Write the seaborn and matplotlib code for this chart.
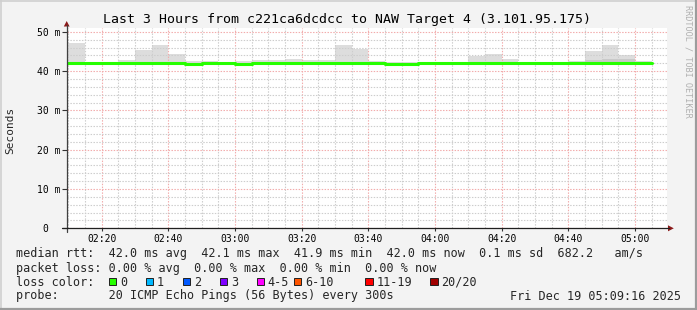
import matplotlib
matplotlib.use("Agg")
import matplotlib.pyplot as plt
import seaborn as sns
import pandas as pd
from matplotlib.lines import Line2D
from matplotlib.patches import Polygon, Rectangle
from matplotlib.ticker import MultipleLocator, FixedLocator

# ---------------- data ----------------
step_start = ["02:05", "02:10", "02:15", "02:20", "02:25", "02:30", "02:35", "02:40",
              "02:45", "02:50", "02:55", "03:00", "03:05", "03:10", "03:15", "03:20",
              "03:25", "03:30", "03:35", "03:40", "03:45", "03:50", "03:55", "04:00",
              "04:05", "04:10", "04:15", "04:20", "04:25", "04:30", "04:35", "04:40",
              "04:45", "04:50", "04:55", "05:00"]
step_end = "05:05"
smoke_max = [49.6, 47.2, 42.2, 42.2, 42.8, 45.4, 46.7, 44.4,
             42.6, 42.5, 42.3, 42.6, 42.8, 42.8, 43.1, 42.8,
             42.8, 46.6, 45.6, 42.6, 42.3, 42.3, 42.1, 42.1,
             42.1, 43.9, 44.3, 43.1, 42.1, 42.1, 42.1, 42.6,
             45.1, 46.6, 44.1, 42.6]
smoke_dense = [42.0, 42.0, 42.0, 42.0, 42.0, 42.0, 42.0, 42.0,
               41.75, 42.0, 42.0, 41.75, 42.0, 42.0, 42.0, 42.0,
               42.0, 42.0, 42.0, 42.0, 41.75, 41.75, 42.0, 42.0,
               42.0, 42.0, 42.0, 42.0, 42.0, 42.0, 42.0, 42.0,
               42.7, 43.1, 43.0, 42.0]
smoke_min = [41.7, 41.7, 41.7, 41.7, 41.7, 41.7, 41.7, 41.7,
             41.6, 41.7, 41.7, 41.6, 41.7, 41.7, 41.7, 41.7,
             41.7, 41.7, 41.7, 41.7, 41.6, 41.6, 41.7, 41.7,
             41.7, 41.7, 41.7, 41.7, 41.7, 41.7, 41.7, 41.7,
             41.7, 41.7, 41.7, 41.7]
median_rtt = [42.0, 42.0, 42.0, 42.0, 42.0, 42.0, 42.0, 42.0,
              41.75, 42.0, 42.0, 41.75, 42.0, 42.0, 42.0, 42.0,
              42.0, 42.0, 42.0, 42.0, 41.75, 41.75, 42.0, 42.0,
              42.0, 42.0, 42.0, 42.0, 42.0, 42.0, 42.0, 42.0,
              42.0, 42.0, 42.0, 42.0]

x_tick_labels = ["02:20", "02:40", "03:00", "03:20", "03:40", "04:00", "04:20", "04:40", "05:00"]
y_tick_values = [0, 10, 20, 30, 40, 50]
y_tick_labels = ["0  ", "10 m", "20 m", "30 m", "40 m", "50 m"]

title = "Last 3 Hours from c221ca6dcdcc to NAW Target 4 (3.101.95.175)"
legend_lines = [
    "median rtt:  42.0 ms avg  42.1 ms max  41.9 ms min  42.0 ms now  0.1 ms sd  682.2   am/s",
    "packet loss: 0.00 % avg  0.00 % max  0.00 % min  0.00 % now",
]
loss_labels = ["0", "1", "2", "3", "4-5", "6-10", "11-19", "20/20"]
loss_colors = ["#26ff00", "#00b8ff", "#0059ff", "#7e00ff", "#ff00ff", "#ff5500", "#ff0000", "#a10000"]
probe_text = "probe:       20 ICMP Echo Pings (56 Bytes) every 300s"
date_text = "Fri Dec 19 05:09:16 2025"


def minutes(t):
    h, m = t.split(":")
    return (int(h) - 2) * 60 + int(m)


# ---------------- figure ----------------
W, H = 697, 310
sns.set_theme(style="white")
plt.rcParams["font.family"] = ["DejaVu Sans Mono", "DejaVu Sans"]
MONO = "DejaVu Sans Mono"

fig = plt.figure(figsize=(W / 100, H / 100), dpi=100, facecolor="#f3f3f3")


def P(x, y):
    return (x / W, 1 - y / H)


X0, X1, YB, YT = 67.0, 667.0, 228.3, 28.0
ax = fig.add_axes([X0 / W, 1 - YB / H, (X1 - X0) / W, (YB - YT) / H])
ax.set_facecolor("white")
ppm = 600.0 / 180.0
x_left = minutes("02:20") - (101.7 - X0) / ppm
ax.set_xlim(x_left, x_left + 180)
ax.set_ylim(0, (YB - YT) / 3.93)

xs = [minutes(t) for t in step_start] + [minutes(step_end)]
df = pd.DataFrame({
    "t": xs,
    "lo": smoke_min + [smoke_min[-1]],
    "hi": smoke_max + [smoke_max[-1]],
    "dense": smoke_dense + [smoke_dense[-1]],
    "med": median_rtt + [median_rtt[-1]],
})

ax.fill_between(df["t"], df["lo"], df["hi"], step="post", color="#dddddd", lw=0, zorder=1)
ax.fill_between(df["t"], df["lo"], df["dense"], step="post", color="#c9c9c9", lw=0, zorder=1.1)
sns.lineplot(data=df, x="t", y="med", drawstyle="steps-post", color="#26ff00",
             lw=2.2, estimator=None, ax=ax, zorder=3)
ax.set_xlabel("")
ax.set_ylabel("")

# grid
ax.xaxis.set_major_locator(FixedLocator([minutes(t) for t in x_tick_labels]))
ax.xaxis.set_minor_locator(MultipleLocator(5))
ax.set_xticklabels(x_tick_labels)
ax.yaxis.set_major_locator(FixedLocator(y_tick_values))
ax.yaxis.set_minor_locator(MultipleLocator(2))
ax.set_yticklabels(y_tick_labels)
ax.set_axisbelow(False)
ax.grid(which="minor", color="#cdcdcd", lw=0.8, linestyle=(0, (1.3, 1.3)))
ax.grid(which="major", color="#f2acac", lw=0.8, linestyle=(0, (1.3, 1.3)))

for s in ax.spines.values():
    s.set_visible(False)
ax.tick_params(axis="x", which="major", direction="out", length=2.5, width=0.8,
               color="#333333", pad=1.6, labelsize=7, labelcolor="black")
ax.tick_params(axis="x", which="minor", length=0)
ax.tick_params(axis="y", which="major", direction="out", length=3.5, width=0.8,
               color="#333333", pad=1.3, labelsize=7, labelcolor="black")
ax.tick_params(axis="y", which="minor", direction="out", length=1.5, width=0.7, color="#555555")
for lab in ax.get_xticklabels() + ax.get_yticklabels():
    lab.set_family(MONO)
ax.tick_params(bottom=True, left=True)

# axis lines and arrows
fig.add_artist(Line2D([P(66.7, 0)[0]] * 2, [P(0, 231.5)[1], P(0, 25.0)[1]], color="#404040", lw=0.9))
fig.add_artist(Line2D([P(62, 0)[0], P(669, 0)[0]], [P(0, YB)[1]] * 2, color="#202020", lw=0.9))
fig.add_artist(Polygon([P(63.8, 26.5), P(69.6, 26.5), P(66.7, 21.0)], closed=True,
                       color="#8b1a1a", lw=0))
fig.add_artist(Polygon([P(668, 225.3), P(668, 231.3), P(673.8, 228.3)], closed=True,
                       color="#8b1a1a", lw=0))

# frame
fig.add_artist(Line2D([0, 1], [P(0, 0.5)[1]] * 2, color="#cfcfcf", lw=1.2))
fig.add_artist(Line2D([P(0.5, 0)[0]] * 2, [0, 1], color="#cfcfcf", lw=1.2))
fig.add_artist(Line2D([0, 1], [P(0, 309.0)[1]] * 2, color="#9c9c9c", lw=1.6))
fig.add_artist(Line2D([P(696.0, 0)[0]] * 2, [0, 1], color="#9c9c9c", lw=1.6))

# texts
fig.text(*P(347, 19), title, ha="center", va="center", fontsize=9.55, family=MONO, color="black")
fig.text(*P(10, 130), "Seconds", rotation=90, ha="center", va="center", fontsize=8, family=MONO)
fig.text(*P(688, 5), "RRDTOOL / TOBI OETIKER", rotation=270, ha="center", va="top",
         fontsize=6.1, family=MONO, color="#b0b0b0")

fig.text(*P(16, 254), legend_lines[0], ha="left", va="center", fontsize=8.5, family=MONO)
fig.text(*P(16, 268.3), legend_lines[1], ha="left", va="center", fontsize=8.5, family=MONO)
fig.text(*P(16, 282), "loss color:", ha="left", va="center", fontsize=8.5, family=MONO)
sq_left = [108.5, 145.5, 182.5, 219.5, 256.5, 293.5, 365.0, 430.0]
for xl, lab, col in zip(sq_left, loss_labels, loss_colors):
    x0, y0 = P(xl, 285.0)
    fig.add_artist(Rectangle((x0, y0), 7.5 / W, 7.5 / H, facecolor=col, edgecolor="#202020", lw=0.7))
    fig.text(*P(xl + 11.3, 282), lab, ha="left", va="center", fontsize=8.5, family=MONO)
fig.text(*P(16, 296), probe_text, ha="left", va="center", fontsize=8.5, family=MONO)
fig.text(*P(680.5, 296), date_text, ha="right", va="center", fontsize=8.5, family=MONO)

fig.savefig("out.png", dpi=100, facecolor=fig.get_facecolor())
